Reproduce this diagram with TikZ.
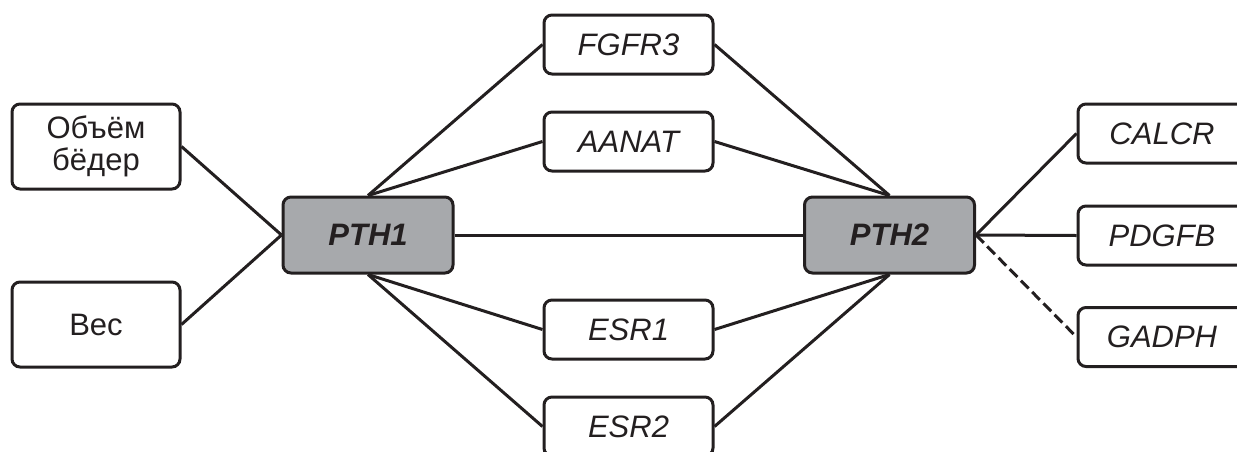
\documentclass[tikz,border=0pt]{standalone}
\usepackage{fontspec}
\setmainfont{Liberation Sans}
\definecolor{ink}{HTML}{231F20}
\definecolor{hub}{HTML}{A7A9AC}
\tikzset{
  box/.style={draw=ink, line width=1.5pt, rounded corners=4pt, fill=white, text=ink,
    minimum width=#1*0.5pt, inner sep=0pt, align=center,
    font=\fontsize{15.5}{16}\selectfont},
  box/.default=169,
  gene/.style={box, minimum height=29.5pt, font=\fontsize{15.5}{16}\selectfont\itshape},
  trait/.style={box=168, minimum height=42.5pt},
  hubbox/.style={box=170, minimum height=38pt, fill=hub, font=\fontsize{15.5}{16}\selectfont\bfseries\itshape},
  link/.style={draw=ink, line width=1.5pt},
  weak/.style={link, dash pattern=on 5.5pt off 2.5pt}
}
\begin{document}
\begin{tikzpicture}[x=0.5pt,y=-0.5pt]
\useasboundingbox (0,0) rectangle (1237,451);
\clip (0,0) rectangle (1237,451);
\node[trait] (ob) at (96,146.5) {Объём\\бёдер};
\node[trait] (ves) at (96,324.5) {Вес};
\node[hubbox] (pth1) at (368,235) {PTH1};
\node[hubbox] (pth2) at (889.5,235) {PTH2};
\node[gene] (fgfr3) at (628.5,44.5) {FGFR3};
\node[gene] (aanat) at (628.5,141.5) {AANAT};
\node[gene] (esr1) at (628.5,329.5) {ESR1};
\node[gene] (esr2) at (628.5,426.5) {ESR2};
\node[gene, minimum width=90pt] (calcr) at (1168,133.5) {\hspace*{-6pt}CALCR};
\node[gene, minimum width=90pt] (pdgfb) at (1168,235.5) {\hspace*{-6pt}PDGFB};
\node[gene, minimum width=90pt] (gadph) at (1168,337) {\hspace*{-6pt}GADPH};
\draw[link] (ob.east) -- (pth1.west);
\draw[link] (ves.east) -- (pth1.west);
\draw[link] (pth1.north) -- (fgfr3.west);
\draw[link] (pth1.north) -- (aanat.west);
\draw[link] (pth1.south) -- (esr1.west);
\draw[link] (pth1.south) -- (esr2.west);
\draw[link] (pth1.east) -- (pth2.west);
\draw[link] (pth2.north) -- (fgfr3.east);
\draw[link] (pth2.north) -- (aanat.east);
\draw[link] (pth2.south) -- (esr1.east);
\draw[link] (pth2.south) -- (esr2.east);
\draw[link] (pth2.east) -- (calcr.west);
\draw[link] (pth2.east) -- (pdgfb.west);
\draw[weak] (pth2.east) -- (gadph.west);
\end{tikzpicture}
\end{document}
